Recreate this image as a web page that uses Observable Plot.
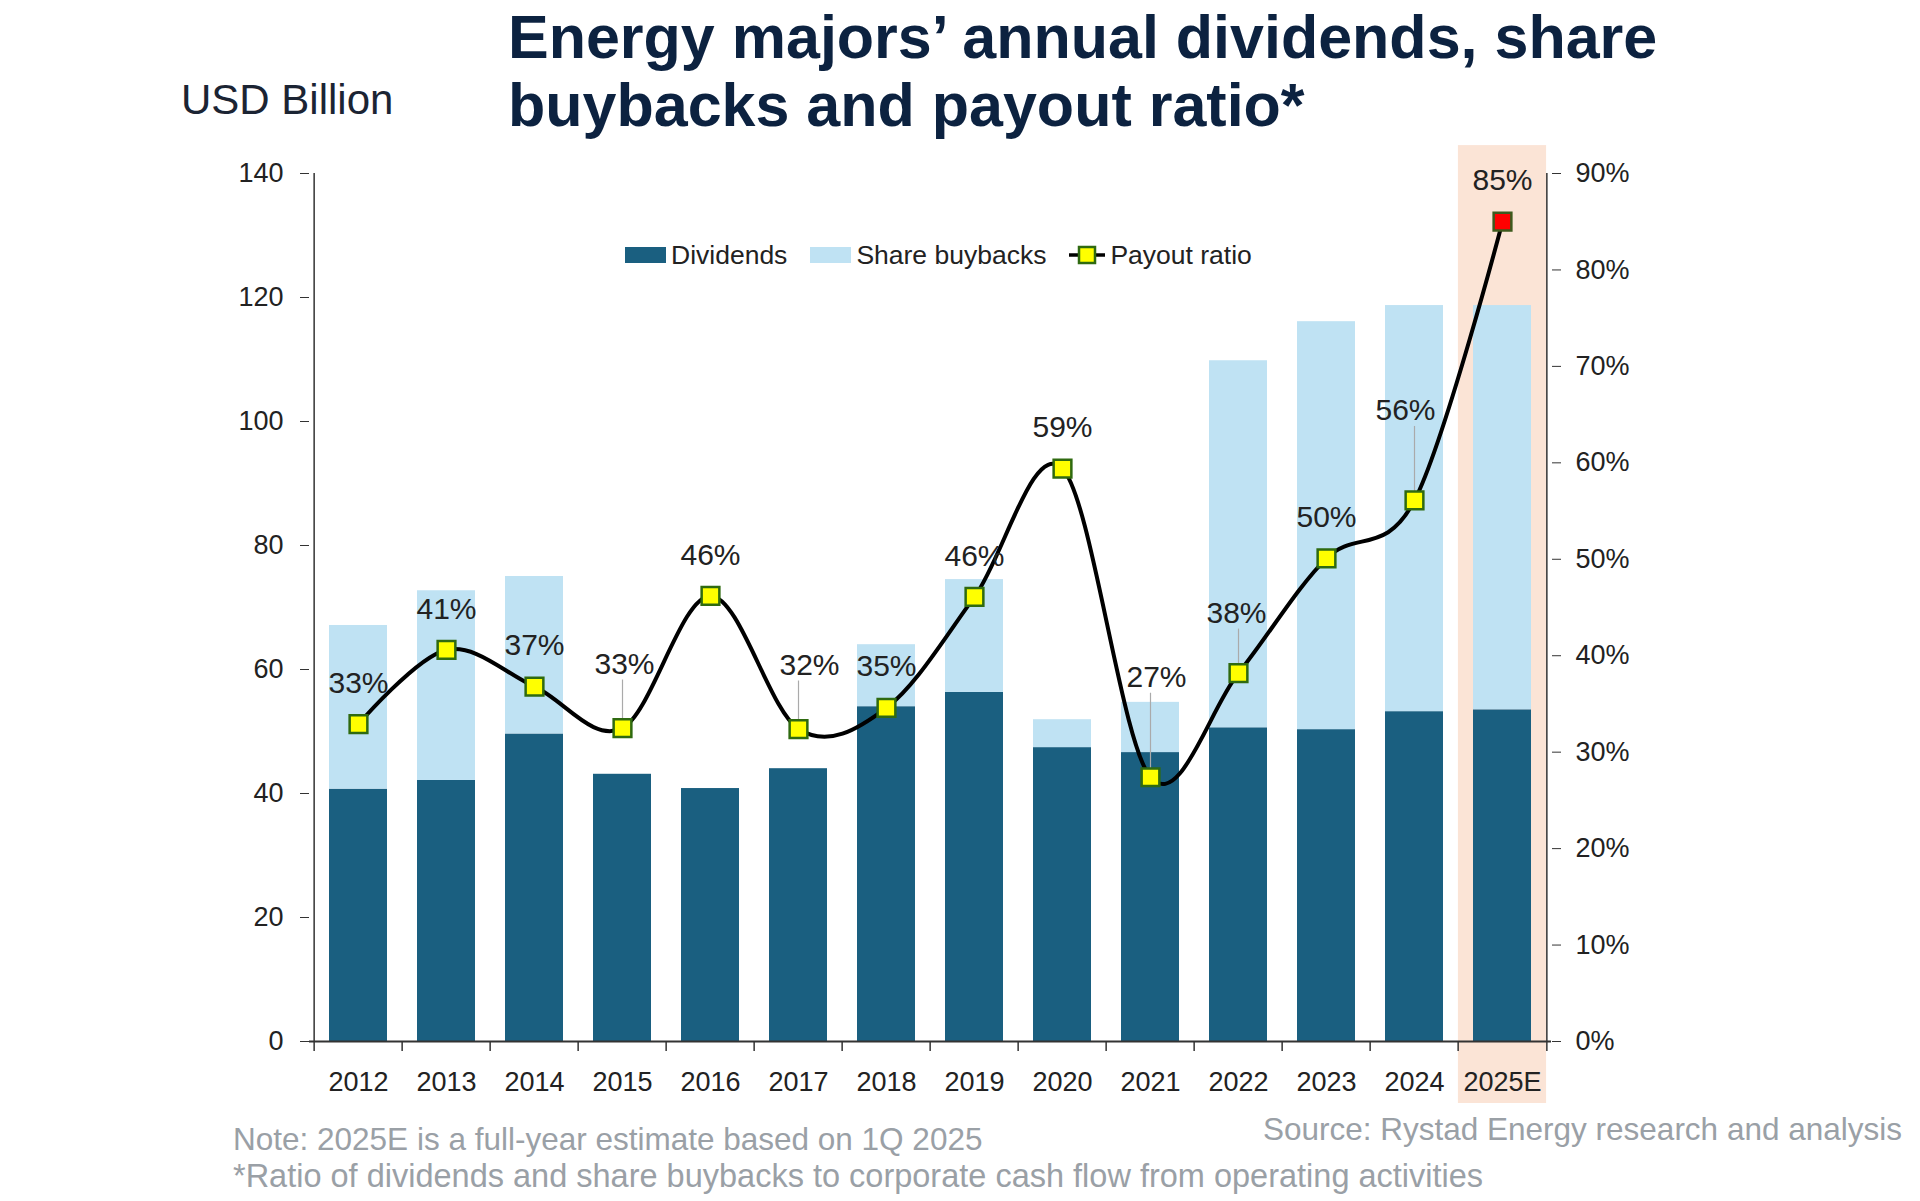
<!DOCTYPE html>
<html><head><meta charset="utf-8">
<script src="https://cdn.jsdelivr.net/npm/d3@7"></script>
<script src="https://cdn.jsdelivr.net/npm/@observablehq/plot@0.6"></script>
<style>
body{margin:0;background:#fff;font-family:"Liberation Sans",Arial,sans-serif;}
#wrap{position:relative;width:1920px;height:1201px;overflow:hidden;background:#fff;}
#title{position:absolute;left:508px;top:3px;font-size:61px;line-height:68px;font-weight:bold;color:#0c2240;white-space:nowrap;}
#unit{position:absolute;left:181px;top:76px;font-size:42px;line-height:48px;color:#1b2433;white-space:nowrap;}
#chart{position:absolute;left:0;top:140px;}
#legend{position:absolute;left:625px;top:239px;height:32px;display:flex;align-items:center;font-size:26.5px;color:#222;white-space:nowrap;}
#legend .sw{display:inline-block;width:41px;height:16px;margin-right:5px;}
#legend .item{display:flex;align-items:center;margin-right:23px;}
.note{position:absolute;font-size:31.5px;line-height:36px;color:#9aa0a6;white-space:nowrap;}
</style></head><body>
<div id="wrap">
  <div id="unit">USD Billion</div>
  <div id="title">Energy majors’ annual dividends, share<br>buybacks and payout ratio*</div>
  <div id="chart"></div>
  <div id="legend"></div>
  <div class="note" id="n1" style="left:233px;top:1121px;">Note: 2025E is a full-year estimate based on 1Q 2025</div>
  <div class="note" id="n2" style="left:233px;top:1158px;font-size:32.5px;">*Ratio of dividends and share buybacks to corporate cash flow from operating activities</div>
  <div class="note" id="src" style="right:18px;top:1111px;">Source: Rystad Energy research and analysis</div>
</div>
<script>
const years = ["2012","2013","2014","2015","2016","2017","2018","2019","2020","2021","2022","2023","2024","2025E"];
const dividends = [40.7, 42.1, 49.6, 43.1, 40.8, 44.0, 54.0, 56.3, 47.4, 46.6, 50.6, 50.3, 53.2, 53.5];
const buybacks = [26.4, 30.6, 25.4, 0, 0, 0, 10.0, 18.2, 4.5, 8.1, 59.2, 65.8, 65.5, 65.2];
const payoutRatio = [32.9, 40.6, 36.8, 32.5, 46.2, 32.4, 34.6, 46.1, 59.4, 27.4, 38.2, 50.1, 56.1, 85.0];
const leftTicks = [0, 20, 40, 60, 80, 100, 120, 140];
const rightTicks = [0, 10, 20, 30, 40, 50, 60, 70, 80, 90];
const seriesNames = ["Dividends", "Share buybacks"];
const highlightYear = "2025E";

const colors = {div: "#1a5f80", buy: "#bfe2f3", hl: "#fbe4d6", axis: "#333"};
const W = 1920, H = 970, mt = 33, mb = 69, ml = 309, mr = 369;
const yMax = 140, rMax = 90;
const step = (W - ml - mr) / years.length;
const pxPerUnit = (H - mt - mb) / yMax;
const toLeft = r => r * yMax / rMax;

// label offsets (pixels) for the payout ratio labels
const labelOffsets = {"2015": [2, -64], "2017": [11, -64], "2021": [6, -100], "2022": [-2, -60], "2024": [-9, -90]};
const defaultOffset = [0, -41];

const stackRows = years.flatMap((y, i) => [
  {year: y, series: seriesNames[0], value: dividends[i]},
  {year: y, series: seriesNames[1], value: buybacks[i]}
]);
const ratioRows = years.map((y, i) => ({year: y, ratio: payoutRatio[i], ry: toLeft(payoutRatio[i]), last: y === highlightYear}));
const leaderRows = ratioRows.filter(d => labelOffsets[d.year]).map(d => ({
  year: d.year, y1: d.ry, y2: d.ry + (-(labelOffsets[d.year][1]) - 16) / pxPerUnit
}));

const hlInset = -(step * 0.34) / 2;

const chart = Plot.plot({
  width: W, height: H,
  marginTop: mt, marginBottom: mb, marginLeft: ml, marginRight: mr,
  style: {fontFamily: "Liberation Sans, Arial, sans-serif", fontSize: "27px", color: "#222", background: "transparent", overflow: "visible"},
  x: {domain: years, paddingInner: 0.34, paddingOuter: 0.17},
  y: {domain: [0, yMax]},
  color: {domain: seriesNames, range: [colors.div, colors.buy]},
  marks: [
    Plot.barY([highlightYear], {x: d => d, y1: -10, y2: 144.5, fill: colors.hl, insetLeft: hlInset, insetRight: hlInset}),
    Plot.barY(stackRows, {x: "year", y: "value", fill: "series"}),
    Plot.ruleY([0], {stroke: colors.axis, strokeWidth: 2}),
    Plot.ruleX([years[0]], {x: d => d, dx: -step / 2, y1: 0, y2: yMax, stroke: colors.axis, strokeWidth: 1.5}),
    Plot.ruleX([years[years.length - 1]], {x: d => d, dx: step / 2, y1: 0, y2: yMax, stroke: colors.axis, strokeWidth: 1.5}),
    Plot.ruleX(years, {x: d => d, dx: -step / 2, y1: 0, y2: -10 / pxPerUnit, stroke: colors.axis, strokeWidth: 1.5}),
    Plot.ruleX([years[years.length - 1]], {x: d => d, dx: step / 2, y1: 0, y2: -10 / pxPerUnit, stroke: colors.axis, strokeWidth: 1.5}),
    Plot.axisY({anchor: "left", ticks: leftTicks, tickSize: 9, tickPadding: 17, fontSize: 27, label: null, stroke: colors.axis}),
    Plot.axisY({anchor: "right", ticks: rightTicks.map(toLeft), tickFormat: v => Math.round(v * rMax / yMax) + "%", tickSize: 9, tickPadding: 15, fontSize: 27, label: null, stroke: colors.axis}),
    Plot.axisX({anchor: "bottom", tickSize: 0, tickPadding: 30, fontSize: 27, label: null}),
    Plot.ruleX(leaderRows, {x: "year", y1: "y1", y2: "y2", stroke: "#aaa", strokeWidth: 1.2}),
    Plot.line(ratioRows, {x: "year", y: "ry", stroke: "#000", strokeWidth: 4, curve: "cardinal"}),
    Plot.dot(ratioRows, {x: "year", y: "ry", symbol: "square", r: 10, fill: d => d.last ? "#ff0000" : "#ffff00", stroke: d => d.last ? "#3d5a1e" : "#2f6a10", strokeWidth: 2.5}),
    ...ratioRows.map(d => {
      const [dx, dy] = labelOffsets[d.year] || defaultOffset;
      return Plot.text([d], {x: "year", y: "ry", text: r => Math.round(r.ratio) + "%", dx, dy, fontSize: 30, fill: "#222"});
    })
  ]
});
document.getElementById("chart").appendChild(chart);

// legend
const legend = document.getElementById("legend");
legend.innerHTML =
  `<span class="item"><span class="sw" style="background:${colors.div}"></span>${seriesNames[0]}</span>` +
  `<span class="item"><span class="sw" style="background:${colors.buy}"></span>${seriesNames[1]}</span>` +
  `<span class="item"><svg width="36" height="20" style="margin-right:5px"><line x1="0" y1="10" x2="36" y2="10" stroke="#000" stroke-width="3.5"/><rect x="10" y="2" width="16" height="16" fill="#ffff00" stroke="#2f6a10" stroke-width="2.5"/></svg>Payout ratio</span>`;
</script>
</body></html>
